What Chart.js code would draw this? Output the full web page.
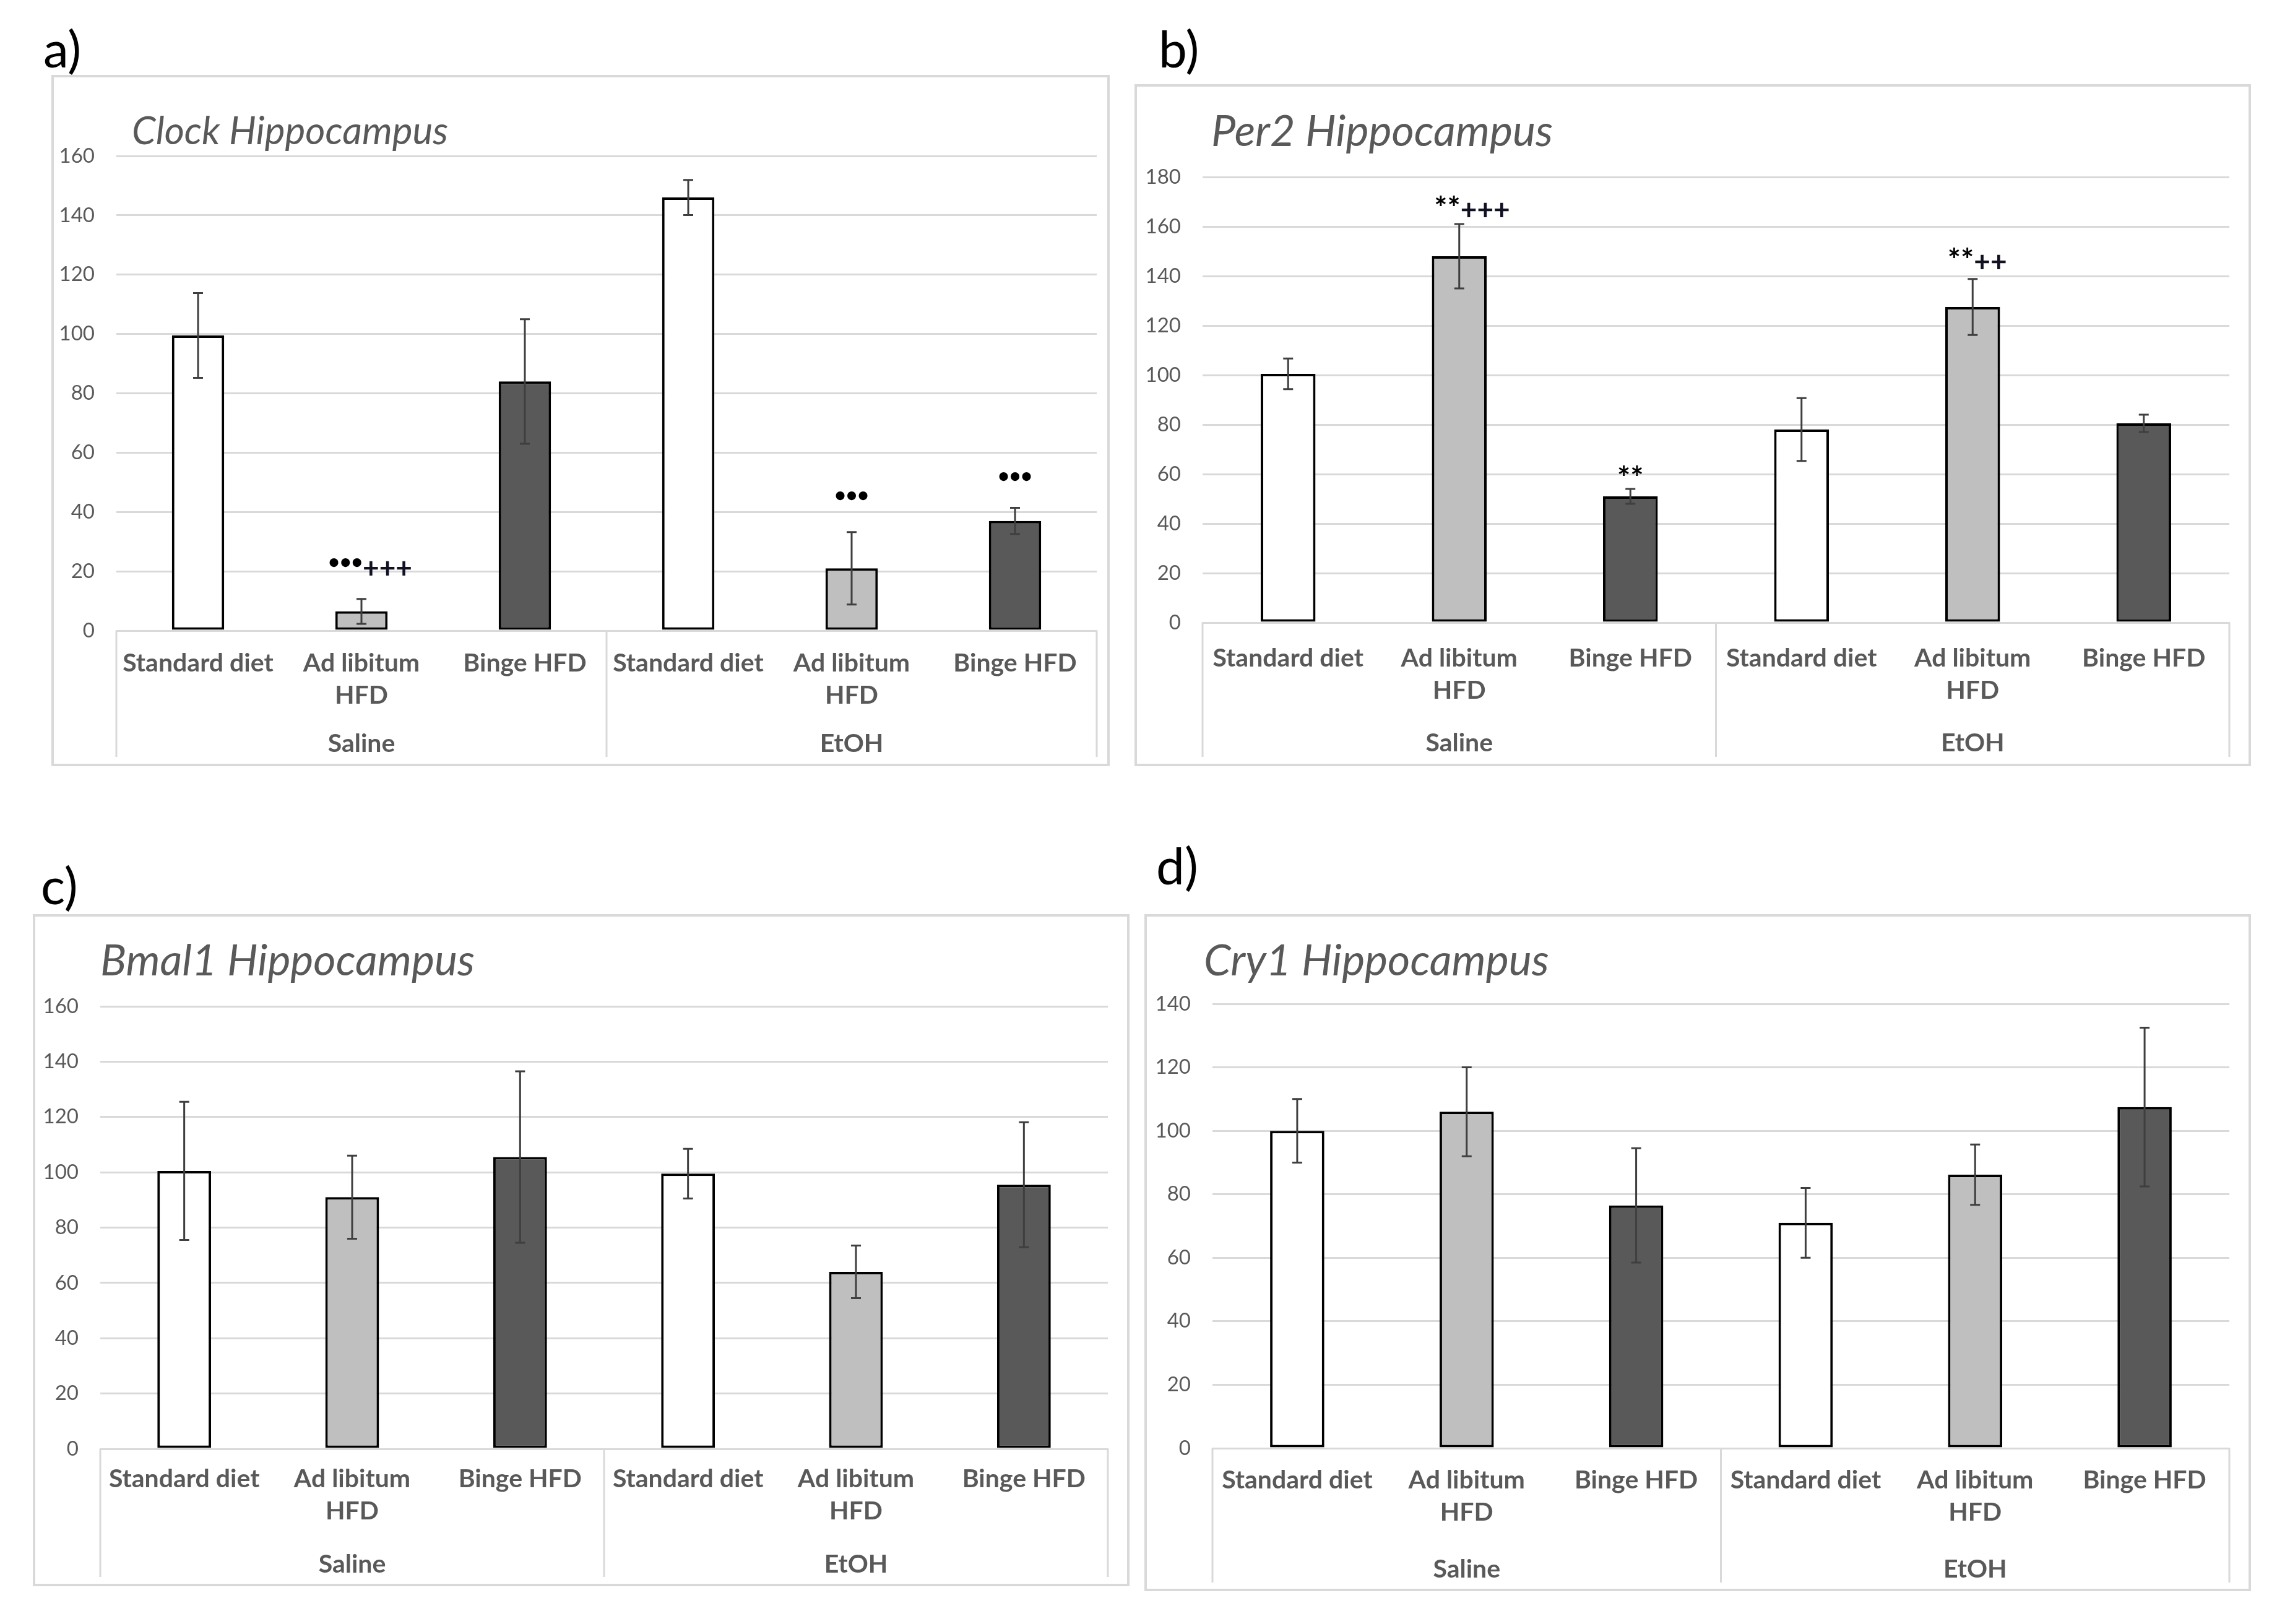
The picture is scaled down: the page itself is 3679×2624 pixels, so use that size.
<!DOCTYPE html>
<html><head><meta charset="utf-8">
<script src="https://cdn.jsdelivr.net/npm/chart.js@4.4.1/dist/chart.umd.min.js"></script>
<style>
html,body{margin:0;padding:0;background:#fff;}
body{width:3679px;height:2624px;position:relative;overflow:hidden;}
canvas{position:absolute;}
.plabel{position:absolute;font-family:Lato,'Open Sans',sans-serif;font-size:82px;line-height:1;color:#000;}
</style></head><body>
<div class="plabel" style="left:70px;top:36px">a)</div>
<div class="plabel" style="left:1872px;top:36px">b)</div>
<div class="plabel" style="left:66px;top:1388px">c)</div>
<div class="plabel" style="left:1868px;top:1356px">d)</div>
<canvas id="ca"></canvas>
<canvas id="cb"></canvas>
<canvas id="cc"></canvas>
<canvas id="cd"></canvas>
<script>
// ---------- DATA ----------
const categories = [['Standard diet'], ['Ad libitum', 'HFD'], ['Binge HFD'], ['Standard diet'], ['Ad libitum', 'HFD'], ['Binge HFD']];
const groups = ['Saline', 'EtOH'];

const clockTitle = 'Clock Hippocampus';
const clockValues = [99.5, 6.5, 84, 146, 21, 37];
const clockErrors = [14.3, 4.2, 21, 5.9, 12.2, 4.4];
const clockSigLeft = ['', '•••', '', '', '•••', '•••'];
const clockSigRight = ['', '+++', '', '', '', ''];
const clockSigAt = [null, 23, null, null, 45.5, 52];
const clockMax = 160;

const per2Title = 'Per2 Hippocampus';
const per2Values = [100.5, 148, 51, 78, 127.5, 80.5];
const per2Errors = [6.2, 13, 3, 12.7, 11.3, 3.5];
const per2SigLeft = ['', '**', '**', '', '**', ''];
const per2SigRight = ['', '+++', '', '', '++', ''];
const per2SigAt = [null, 169, 60, null, 148, null];
const per2Max = 180;

const bmal1Title = 'Bmal1 Hippocampus';
const bmal1Values = [100.5, 91, 105.5, 99.5, 64, 95.5];
const bmal1Errors = [25, 15, 31, 9, 9.5, 22.6];
const bmal1Max = 160;

const cry1Title = 'Cry1 Hippocampus';
const cry1Values = [100, 106, 76.5, 71, 86.2, 107.5];
const cry1Errors = [10, 14, 18, 11, 9.5, 25];
const cry1Max = 140;

const tickStep = 20;

// ---------- STYLE ----------
const barFills = ['#FFFFFF', '#BFBFBF', '#595959', '#FFFFFF', '#BFBFBF', '#595959'];
const GRID = '#D9D9D9';
const TEXT = '#595959';
const FONT = "Lato, 'Open Sans', sans-serif";

function makePanel(id, geo, title, values, errors, sigL, sigR, sigAt, yMax) {
  const cv = document.getElementById(id);
  const W = geo.box.R - geo.box.L, H = geo.box.B - geo.box.T;
  cv.width = W; cv.height = H;
  cv.style.left = geo.box.L + 'px'; cv.style.top = geo.box.T + 'px';
  cv.style.width = W + 'px'; cv.style.height = H + 'px';
  const yW = 100, xH = 100;
  const pad = {
    left: geo.plot.L - geo.box.L - yW,
    right: geo.box.R - geo.plot.R,
    top: geo.plot.T - geo.box.T,
    bottom: geo.box.B - geo.plot.B - xH
  };
  const deco = {
    id: 'deco' + id,
    beforeDraw(chart) {
      const ctx = chart.ctx;
      ctx.save();
      ctx.fillStyle = '#fff'; ctx.fillRect(0, 0, W, H);
      ctx.strokeStyle = GRID; ctx.lineWidth = 4;
      ctx.strokeRect(2, 2, W - 4, H - 4);
      ctx.restore();
    },
    afterDatasetsDraw(chart) {
      const ctx = chart.ctx, ys = chart.scales.y;
      const meta = chart.getDatasetMeta(0);
      ctx.save();
      ctx.strokeStyle = '#3F3F3F'; ctx.lineWidth = 3;
      meta.data.forEach((bar, i) => {
        const x = bar.x;
        const yt = ys.getPixelForValue(values[i] + errors[i]);
        const yb = ys.getPixelForValue(values[i] - errors[i]);
        ctx.beginPath();
        ctx.moveTo(x, yt); ctx.lineTo(x, yb);
        ctx.moveTo(x - 8, yt); ctx.lineTo(x + 8, yt);
        ctx.moveTo(x - 8, yb); ctx.lineTo(x + 8, yb);
        ctx.stroke();
      });
      if (sigAt) {
        meta.data.forEach((bar, i) => {
          if (sigAt[i] == null) return;
          const y = ys.getPixelForValue(sigAt[i]);
          const L = sigL[i], R = sigR[i];
          const isStar = L.indexOf('*') >= 0;
          ctx.fillStyle = '#000';
          ctx.textBaseline = 'middle';
          ctx.font = (isStar ? "bold 50px " : "bold 32px ") + FONT;
          const dy = isStar ? 8 : 0;
          if (R) {
            ctx.textAlign = 'right';
            ctx.fillText(L, bar.x + 2, y + dy);
            ctx.font = "bold 46px " + FONT;
            ctx.textAlign = 'left';
            ctx.fillStyle = '#111122';
            ctx.fillText(R, bar.x + 2, y + 10);
          } else {
            ctx.textAlign = 'center';
            ctx.fillText(L, bar.x, y + dy);
          }
        });
      }
      ctx.restore();
    },
    afterDraw(chart) {
      const ctx = chart.ctx, xs = chart.scales.x, a = chart.chartArea;
      ctx.save();
      ctx.fillStyle = TEXT;
      ctx.font = "italic " + geo.title.size + "px " + FONT;
      ctx.textAlign = 'left'; ctx.textBaseline = 'alphabetic';
      ctx.fillText(title, geo.title.x - geo.box.L, geo.title.y - geo.box.T);
      const mid = (xs.getPixelForValue(2) + xs.getPixelForValue(3)) / 2;
      const sepB = geo.sepB - geo.box.T;
      ctx.strokeStyle = GRID; ctx.lineWidth = 3;
      [a.left, mid, a.right].forEach(x => {
        ctx.beginPath(); ctx.moveTo(x, a.bottom); ctx.lineTo(x, sepB); ctx.stroke();
      });
      ctx.fillStyle = TEXT;
      ctx.font = "bold 41px " + FONT;
      ctx.textAlign = 'center'; ctx.textBaseline = 'middle';
      const l1 = geo.lab1 - geo.box.T;
      categories.forEach((lines, i) => {
        const x = xs.getPixelForValue(i);
        lines.forEach((t, k) => ctx.fillText(t, x, l1 + k * 52));
      });
      const g = geo.grp - geo.box.T;
      ctx.fillText(groups[0], (a.left + mid) / 2, g);
      ctx.fillText(groups[1], (mid + a.right) / 2, g);
      ctx.restore();
    }
  };
  return new Chart(cv, {
    type: 'bar',
    data: {
      labels: categories.map(c => c.join(' ')),
      datasets: [{
        data: values,
        backgroundColor: barFills,
        borderColor: '#000',
        borderWidth: 4,
        borderSkipped: false,
        barPercentage: 0.32,
        categoryPercentage: 1
      }]
    },
    options: {
      responsive: false, animation: false, devicePixelRatio: 1,
      layout: { padding: pad },
      plugins: { legend: { display: false }, tooltip: { enabled: false }, title: { display: false } },
      scales: {
        x: {
          grid: { display: false, drawTicks: false },
          border: { display: true, color: GRID, width: 3 },
          ticks: { display: false },
          afterFit(s) { s.height = xH; }
        },
        y: {
          min: 0, max: yMax,
          ticks: { stepSize: tickStep, padding: 35, color: TEXT, font: { family: FONT, size: 33 } },
          grid: { color: GRID, lineWidth: 3, drawTicks: false },
          border: { display: false },
          afterFit(s) { s.width = yW; }
        }
      }
    },
    plugins: [deco]
  });
}

makePanel('ca', { box: { L: 83, T: 121, R: 1793, B: 1238 }, plot: { L: 188, R: 1772, T: 252, B: 1019 }, title: { x: 213, y: 233, size: 62 }, sepB: 1223, lab1: 1072, grp: 1202 },
  clockTitle, clockValues, clockErrors, clockSigLeft, clockSigRight, clockSigAt, clockMax);
makePanel('cb', { box: { L: 1833, T: 136, R: 3637, B: 1238 }, plot: { L: 1943, R: 3602, T: 286, B: 1006 }, title: { x: 1957, y: 236, size: 70 }, sepB: 1223, lab1: 1064, grp: 1201 },
  per2Title, per2Values, per2Errors, per2SigLeft, per2SigRight, per2SigAt, per2Max);
makePanel('cc', { box: { L: 53, T: 1477, R: 1825, B: 2563 }, plot: { L: 162, R: 1790, T: 1626, B: 2341 }, title: { x: 162, y: 1576, size: 70 }, sepB: 2548, lab1: 2390, grp: 2528 },
  bmal1Title, bmal1Values, bmal1Errors, null, null, null, bmal1Max);
makePanel('cd', { box: { L: 1849, T: 1477, R: 3637, B: 2571 }, plot: { L: 1959, R: 3602, T: 1622, B: 2340 }, title: { x: 1945, y: 1576, size: 70 }, sepB: 2557, lab1: 2392, grp: 2536 },
  cry1Title, cry1Values, cry1Errors, null, null, null, cry1Max);
</script>
</body></html>
